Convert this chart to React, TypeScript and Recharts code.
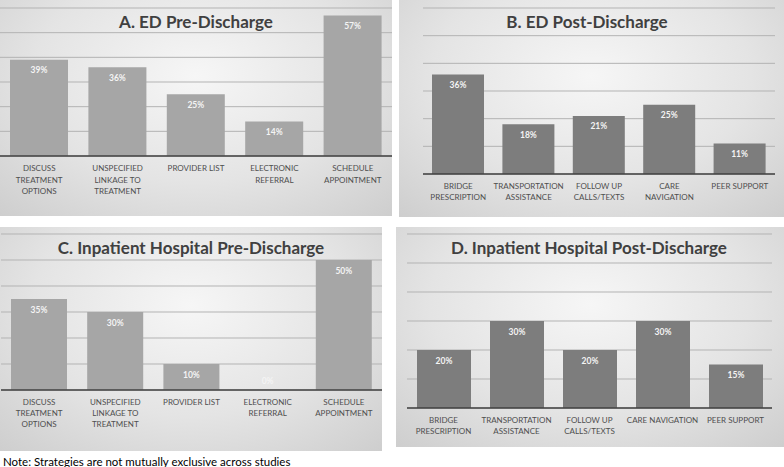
import { Bar, BarChart, CartesianGrid, Cell, LabelList, XAxis, YAxis } from "recharts";

const preDischargeCategories = [
  "DISCUSS\nTREATMENT\nOPTIONS",
  "UNSPECIFIED\nLINKAGE TO\nTREATMENT",
  "PROVIDER LIST",
  "ELECTRONIC\nREFERRAL",
  "SCHEDULE\nAPPOINTMENT",
];
const edPostCategories = [
  "BRIDGE\nPRESCRIPTION",
  "TRANSPORTATION\nASSISTANCE",
  "FOLLOW UP\nCALLS/TEXTS",
  "CARE\nNAVIGATION",
  "PEER SUPPORT",
];
const inpatientPostCategories = [
  "BRIDGE\nPRESCRIPTION",
  "TRANSPORTATION\nASSISTANCE",
  "FOLLOW UP\nCALLS/TEXTS",
  "CARE NAVIGATION",
  "PEER SUPPORT",
];

const edPreValues = [39, 36, 25, 14, 57];
const edPostValues = [36, 18, 21, 25, 11];
const inpatientPreValues = [35, 30, 10, 0, 50];
const inpatientPostValues = [20, 30, 20, 30, 15];

const percentTicks = [0, 10, 20, 30, 40, 50, 60];

const FONT = "Lato, 'Open Sans', sans-serif";
const LIGHT_BAR = "#a6a6a6";
const DARK_BAR = "#7d7d7d";

function toRows(categories: string[], values: number[]) {
  return categories.map((category, i) => ({ category, value: values[i] }));
}

function MultiLineTick(props: any) {
  const { x, y, payload, firstLine, lineHeight } = props;
  const lines = String(payload.value).split("\n");
  return (
    <g>
      {lines.map((line: string, i: number) => (
        <text
          key={i}
          x={x}
          y={y + firstLine + i * lineHeight}
          textAnchor="middle"
          dominantBaseline="central"
          fontSize={8}
          fontFamily={FONT}
          fill="#4f4f4f"
        >
          {line}
        </text>
      ))}
    </g>
  );
}

function ValueLabel(props: any) {
  const { x, y, width, height, value } = props;
  // zero bars get their label just above the axis, like the source
  const cy = value === 0 ? y + height - 9 : y + 10.5;
  return (
    <text
      x={x + width / 2}
      y={cy}
      textAnchor="middle"
      dominantBaseline="central"
      fontSize={8.5}
      fontWeight={700}
      fontFamily={FONT}
      fill="#f4f4f4"
    >
      {value}%
    </text>
  );
}

type PanelProps = {
  title: string;
  rows: { category: string; value: number }[];
  left: number;
  top: number;
  width: number;
  height: number;
  margin: { top: number; right: number; left: number; bottom: number };
  axisHeight: number;
  barSize: number;
  color: string;
  titleX: number;
  titleY: number;
  firstLine: number;
  lineHeight: number;
};

function Panel(p: PanelProps) {
  return (
    <div
      style={{
        position: "absolute",
        left: p.left,
        top: p.top,
        width: p.width,
        height: p.height,
        background:
          "radial-gradient(ellipse 75% 90% at 50% 35%, #f6f6f6 0%, #e4e4e4 55%, #cdcdcd 100%)",
      }}
    >
      <BarChart width={p.width} height={p.height} data={p.rows} margin={p.margin}>
        <CartesianGrid horizontal vertical={false} stroke="#b3b3b3" />
        <YAxis hide domain={[0, 60]} ticks={percentTicks} />
        <XAxis
          dataKey="category"
          height={p.axisHeight}
          interval={0}
          tickSize={0}
          tickMargin={0}
          tickLine={false}
          axisLine={{ stroke: "#404040", strokeWidth: 1.5 }}
          tick={(props: any) => (
            <MultiLineTick {...props} firstLine={p.firstLine} lineHeight={p.lineHeight} />
          )}
        />
        <Bar
          dataKey="value"
          fill={p.color}
          barSize={p.barSize}
          minPointSize={1}
          isAnimationActive={false}
        >
          {p.rows.map((row, i) => (
            <Cell key={i} fill={p.color} fillOpacity={row.value === 0 ? 0 : 1} />
          ))}
          <LabelList dataKey="value" content={(props: any) => <ValueLabel {...props} />} />
        </Bar>
      </BarChart>
      <div
        style={{
          position: "absolute",
          left: p.titleX,
          top: p.titleY,
          transform: "translate(-50%, -50%)",
          whiteSpace: "nowrap",
          fontFamily: FONT,
          fontWeight: 700,
          fontSize: 17,
          color: "#404040",
        }}
      >
        {p.title}
      </div>
    </div>
  );
}

export default function App() {
  return (
    <div
      style={{
        position: "absolute",
        left: 0,
        top: 0,
        width: 784,
        height: 467,
        background: "#ffffff",
        overflow: "hidden",
      }}
    >
      <Panel
        title="A. ED Pre-Discharge"
        rows={toRows(preDischargeCategories, edPreValues)}
        left={0}
        top={0}
        width={392}
        height={216}
        margin={{ top: 8, right: 0, left: 0, bottom: 0 }}
        axisHeight={60}
        barSize={58}
        color={LIGHT_BAR}
        titleX={196}
        titleY={21}
        firstLine={12}
        lineHeight={11.5}
      />
      <Panel
        title="B. ED Post-Discharge"
        rows={toRows(edPostCategories, edPostValues)}
        left={399}
        top={0}
        width={385}
        height={217}
        margin={{ top: 8, right: 9, left: 24, bottom: 0 }}
        axisHeight={43}
        barSize={52}
        color={DARK_BAR}
        titleX={188}
        titleY={21}
        firstLine={11.5}
        lineHeight={11.5}
      />
      <Panel
        title="C. Inpatient Hospital Pre-Discharge"
        rows={toRows(preDischargeCategories, inpatientPreValues)}
        left={0}
        top={227}
        width={382}
        height={224}
        margin={{ top: 7, right: 0, left: 1, bottom: 0 }}
        axisHeight={61}
        barSize={56}
        color={LIGHT_BAR}
        titleX={191}
        titleY={20}
        firstLine={12}
        lineHeight={10.8}
      />
      <Panel
        title="D. Inpatient Hospital Post-Discharge"
        rows={toRows(inpatientPostCategories, inpatientPostValues)}
        left={396}
        top={227}
        width={388}
        height={220}
        margin={{ top: 7, right: 12, left: 11, bottom: 0 }}
        axisHeight={39}
        barSize={54}
        color={DARK_BAR}
        titleX={193}
        titleY={20}
        firstLine={12}
        lineHeight={11}
      />
      <div
        style={{
          position: "absolute",
          left: 3,
          top: 461,
          transform: "translateY(-50%)",
          fontFamily: FONT,
          fontSize: 11.5,
          color: "#000000",
          whiteSpace: "nowrap",
        }}
      >
        Note: Strategies are not mutually exclusive across studies
      </div>
    </div>
  );
}
